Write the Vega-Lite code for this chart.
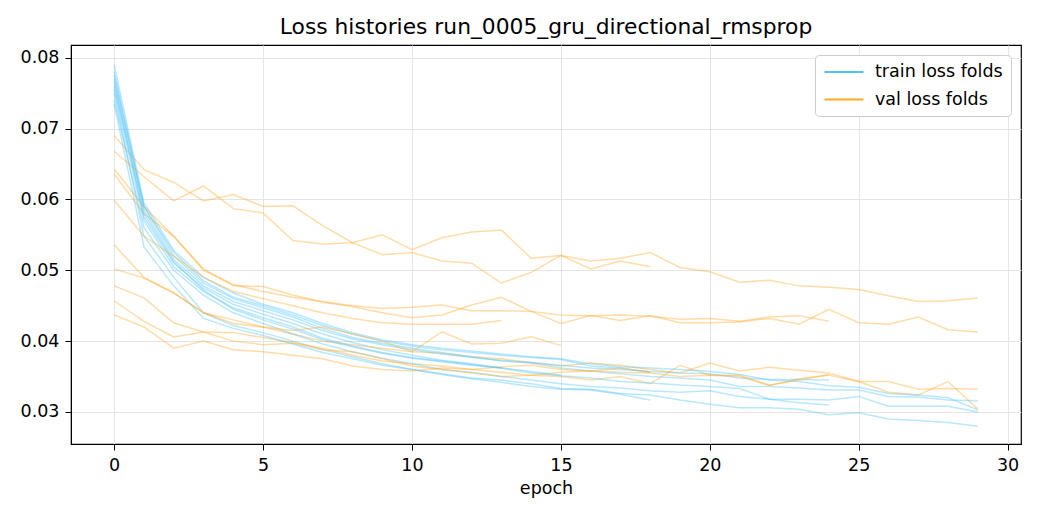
{
  "$schema": "https://vega.github.io/schema/vega-lite/v6.json",
  "autosize": {"type": "none"},
  "padding": {"left": 71, "top": 45, "right": 19, "bottom": 76},
  "width": 950,
  "height": 399,
  "title": {
    "text": "Loss histories run_0005_gru_directional_rmsprop",
    "font": "DejaVu Sans",
    "fontSize": 21.8,
    "fontWeight": "normal",
    "color": "black",
    "offset": 6
  },
  "config": {
    "font": "DejaVu Sans",
    "view": {"stroke": "black", "strokeWidth": 1.2},
    "axis": {
      "domainColor": "black",
      "tickColor": "black",
      "tickSize": 6,
      "labelColor": "black",
      "labelFontSize": 17.5,
      "labelPadding": 6,
      "titleFontSize": 17.5,
      "titleFontWeight": "normal",
      "titleColor": "black",
      "gridColor": "#e4e4e4",
      "gridWidth": 1
    }
  },
  "data": {
    "values": [
      {"fold":1,"kind":"train","epoch":0,"loss":0.0750},{"fold":1,"kind":"train","epoch":1,"loss":0.0548},{"fold":1,"kind":"train","epoch":2,"loss":0.0490},{"fold":1,"kind":"train","epoch":3,"loss":0.0440},{"fold":1,"kind":"train","epoch":4,"loss":0.0422},{"fold":1,"kind":"train","epoch":5,"loss":0.0412},{"fold":1,"kind":"train","epoch":6,"loss":0.0400},{"fold":1,"kind":"train","epoch":7,"loss":0.0388},{"fold":1,"kind":"train","epoch":8,"loss":0.0378},{"fold":1,"kind":"train","epoch":9,"loss":0.0368},{"fold":1,"kind":"train","epoch":10,"loss":0.0360},{"fold":1,"kind":"train","epoch":11,"loss":0.0354},{"fold":1,"kind":"train","epoch":12,"loss":0.0348},{"fold":1,"kind":"train","epoch":13,"loss":0.0345},{"fold":1,"kind":"train","epoch":14,"loss":0.0340},{"fold":1,"kind":"train","epoch":15,"loss":0.0333},{"fold":1,"kind":"train","epoch":16,"loss":0.0332},{"fold":1,"kind":"train","epoch":17,"loss":0.0326},{"fold":1,"kind":"train","epoch":18,"loss":0.0324},{"fold":1,"kind":"train","epoch":19,"loss":0.0317},{"fold":1,"kind":"train","epoch":20,"loss":0.0311},{"fold":1,"kind":"train","epoch":21,"loss":0.0306},{"fold":1,"kind":"train","epoch":22,"loss":0.0306},{"fold":1,"kind":"train","epoch":23,"loss":0.0304},{"fold":1,"kind":"train","epoch":24,"loss":0.0296},{"fold":1,"kind":"train","epoch":25,"loss":0.0299},{"fold":1,"kind":"train","epoch":26,"loss":0.0290},{"fold":1,"kind":"train","epoch":27,"loss":0.0288},{"fold":1,"kind":"train","epoch":28,"loss":0.0285},{"fold":1,"kind":"train","epoch":29,"loss":0.0280},
      {"fold":1,"kind":"val","epoch":0,"loss":0.0478},{"fold":1,"kind":"val","epoch":1,"loss":0.0461},{"fold":1,"kind":"val","epoch":2,"loss":0.0426},{"fold":1,"kind":"val","epoch":3,"loss":0.0413},{"fold":1,"kind":"val","epoch":4,"loss":0.0412},{"fold":1,"kind":"val","epoch":5,"loss":0.0405},{"fold":1,"kind":"val","epoch":6,"loss":0.0398},{"fold":1,"kind":"val","epoch":7,"loss":0.0390},{"fold":1,"kind":"val","epoch":8,"loss":0.0380},{"fold":1,"kind":"val","epoch":9,"loss":0.0372},{"fold":1,"kind":"val","epoch":10,"loss":0.0368},{"fold":1,"kind":"val","epoch":11,"loss":0.0365},{"fold":1,"kind":"val","epoch":12,"loss":0.0360},{"fold":1,"kind":"val","epoch":13,"loss":0.0356},{"fold":1,"kind":"val","epoch":14,"loss":0.0352},{"fold":1,"kind":"val","epoch":15,"loss":0.0350},{"fold":1,"kind":"val","epoch":16,"loss":0.0345},{"fold":1,"kind":"val","epoch":17,"loss":0.0350},{"fold":1,"kind":"val","epoch":18,"loss":0.0340},{"fold":1,"kind":"val","epoch":19,"loss":0.0366},{"fold":1,"kind":"val","epoch":20,"loss":0.0352},{"fold":1,"kind":"val","epoch":21,"loss":0.0352},{"fold":1,"kind":"val","epoch":22,"loss":0.0337},{"fold":1,"kind":"val","epoch":23,"loss":0.0347},{"fold":1,"kind":"val","epoch":24,"loss":0.0352},{"fold":1,"kind":"val","epoch":25,"loss":0.0343},{"fold":1,"kind":"val","epoch":26,"loss":0.0328},{"fold":1,"kind":"val","epoch":27,"loss":0.0324},{"fold":1,"kind":"val","epoch":28,"loss":0.0343},{"fold":1,"kind":"val","epoch":29,"loss":0.0304},
      {"fold":2,"kind":"train","epoch":0,"loss":0.0765},{"fold":2,"kind":"train","epoch":1,"loss":0.0575},{"fold":2,"kind":"train","epoch":2,"loss":0.0510},{"fold":2,"kind":"train","epoch":3,"loss":0.0475},{"fold":2,"kind":"train","epoch":4,"loss":0.0452},{"fold":2,"kind":"train","epoch":5,"loss":0.0438},{"fold":2,"kind":"train","epoch":6,"loss":0.0425},{"fold":2,"kind":"train","epoch":7,"loss":0.0410},{"fold":2,"kind":"train","epoch":8,"loss":0.0398},{"fold":2,"kind":"train","epoch":9,"loss":0.0388},{"fold":2,"kind":"train","epoch":10,"loss":0.0380},{"fold":2,"kind":"train","epoch":11,"loss":0.0373},{"fold":2,"kind":"train","epoch":12,"loss":0.0368},{"fold":2,"kind":"train","epoch":13,"loss":0.0362},{"fold":2,"kind":"train","epoch":14,"loss":0.0355},{"fold":2,"kind":"train","epoch":15,"loss":0.0351},{"fold":2,"kind":"train","epoch":16,"loss":0.0348},{"fold":2,"kind":"train","epoch":17,"loss":0.0343},{"fold":2,"kind":"train","epoch":18,"loss":0.0341},{"fold":2,"kind":"train","epoch":19,"loss":0.0338},{"fold":2,"kind":"train","epoch":20,"loss":0.0336},{"fold":2,"kind":"train","epoch":21,"loss":0.0333},{"fold":2,"kind":"train","epoch":22,"loss":0.0318},{"fold":2,"kind":"train","epoch":23,"loss":0.0318},{"fold":2,"kind":"train","epoch":24,"loss":0.0317},{"fold":2,"kind":"train","epoch":25,"loss":0.0322},{"fold":2,"kind":"train","epoch":26,"loss":0.0308},{"fold":2,"kind":"train","epoch":27,"loss":0.0308},{"fold":2,"kind":"train","epoch":28,"loss":0.0308},{"fold":2,"kind":"train","epoch":29,"loss":0.0300},
      {"fold":2,"kind":"val","epoch":0,"loss":0.0502},{"fold":2,"kind":"val","epoch":1,"loss":0.0489},{"fold":2,"kind":"val","epoch":2,"loss":0.0468},{"fold":2,"kind":"val","epoch":3,"loss":0.0440},{"fold":2,"kind":"val","epoch":4,"loss":0.0430},{"fold":2,"kind":"val","epoch":5,"loss":0.0420},{"fold":2,"kind":"val","epoch":6,"loss":0.0410},{"fold":2,"kind":"val","epoch":7,"loss":0.0400},{"fold":2,"kind":"val","epoch":8,"loss":0.0395},{"fold":2,"kind":"val","epoch":9,"loss":0.0390},{"fold":2,"kind":"val","epoch":10,"loss":0.0385},{"fold":2,"kind":"val","epoch":11,"loss":0.0383},{"fold":2,"kind":"val","epoch":12,"loss":0.0378},{"fold":2,"kind":"val","epoch":13,"loss":0.0375},{"fold":2,"kind":"val","epoch":14,"loss":0.0370},{"fold":2,"kind":"val","epoch":15,"loss":0.0365},{"fold":2,"kind":"val","epoch":16,"loss":0.0369},{"fold":2,"kind":"val","epoch":17,"loss":0.0366},{"fold":2,"kind":"val","epoch":18,"loss":0.0360},{"fold":2,"kind":"val","epoch":19,"loss":0.0355},{"fold":2,"kind":"val","epoch":20,"loss":0.0369},{"fold":2,"kind":"val","epoch":21,"loss":0.0358},{"fold":2,"kind":"val","epoch":22,"loss":0.0363},{"fold":2,"kind":"val","epoch":23,"loss":0.0359},{"fold":2,"kind":"val","epoch":24,"loss":0.0355},{"fold":2,"kind":"val","epoch":25,"loss":0.0343},{"fold":2,"kind":"val","epoch":26,"loss":0.0343},{"fold":2,"kind":"val","epoch":27,"loss":0.0332},{"fold":2,"kind":"val","epoch":28,"loss":0.0333},{"fold":2,"kind":"val","epoch":29,"loss":0.0332},
      {"fold":3,"kind":"train","epoch":0,"loss":0.0780},{"fold":3,"kind":"train","epoch":1,"loss":0.0590},{"fold":3,"kind":"train","epoch":2,"loss":0.0520},{"fold":3,"kind":"train","epoch":3,"loss":0.0482},{"fold":3,"kind":"train","epoch":4,"loss":0.0460},{"fold":3,"kind":"train","epoch":5,"loss":0.0447},{"fold":3,"kind":"train","epoch":6,"loss":0.0434},{"fold":3,"kind":"train","epoch":7,"loss":0.0418},{"fold":3,"kind":"train","epoch":8,"loss":0.0405},{"fold":3,"kind":"train","epoch":9,"loss":0.0397},{"fold":3,"kind":"train","epoch":10,"loss":0.0390},{"fold":3,"kind":"train","epoch":11,"loss":0.0384},{"fold":3,"kind":"train","epoch":12,"loss":0.0378},{"fold":3,"kind":"train","epoch":13,"loss":0.0372},{"fold":3,"kind":"train","epoch":14,"loss":0.0369},{"fold":3,"kind":"train","epoch":15,"loss":0.0362},{"fold":3,"kind":"train","epoch":16,"loss":0.0358},{"fold":3,"kind":"train","epoch":17,"loss":0.0354},{"fold":3,"kind":"train","epoch":18,"loss":0.0350},{"fold":3,"kind":"train","epoch":19,"loss":0.0348},{"fold":3,"kind":"train","epoch":20,"loss":0.0345},{"fold":3,"kind":"train","epoch":21,"loss":0.0336},{"fold":3,"kind":"train","epoch":22,"loss":0.0336},{"fold":3,"kind":"train","epoch":23,"loss":0.0334},{"fold":3,"kind":"train","epoch":24,"loss":0.0331},{"fold":3,"kind":"train","epoch":25,"loss":0.0331},{"fold":3,"kind":"train","epoch":26,"loss":0.0322},{"fold":3,"kind":"train","epoch":27,"loss":0.0321},{"fold":3,"kind":"train","epoch":28,"loss":0.0317},{"fold":3,"kind":"train","epoch":29,"loss":0.0316},
      {"fold":3,"kind":"val","epoch":0,"loss":0.0643},{"fold":3,"kind":"val","epoch":1,"loss":0.0590},{"fold":3,"kind":"val","epoch":2,"loss":0.0548},{"fold":3,"kind":"val","epoch":3,"loss":0.0502},{"fold":3,"kind":"val","epoch":4,"loss":0.0478},{"fold":3,"kind":"val","epoch":5,"loss":0.0477},{"fold":3,"kind":"val","epoch":6,"loss":0.0465},{"fold":3,"kind":"val","epoch":7,"loss":0.0455},{"fold":3,"kind":"val","epoch":8,"loss":0.0449},{"fold":3,"kind":"val","epoch":9,"loss":0.0440},{"fold":3,"kind":"val","epoch":10,"loss":0.0433},{"fold":3,"kind":"val","epoch":11,"loss":0.0437},{"fold":3,"kind":"val","epoch":12,"loss":0.0451},{"fold":3,"kind":"val","epoch":13,"loss":0.0462},{"fold":3,"kind":"val","epoch":14,"loss":0.0442},{"fold":3,"kind":"val","epoch":15,"loss":0.0425},{"fold":3,"kind":"val","epoch":16,"loss":0.0436},{"fold":3,"kind":"val","epoch":17,"loss":0.0429},{"fold":3,"kind":"val","epoch":18,"loss":0.0436},{"fold":3,"kind":"val","epoch":19,"loss":0.0426},{"fold":3,"kind":"val","epoch":20,"loss":0.0426},{"fold":3,"kind":"val","epoch":21,"loss":0.0427},{"fold":3,"kind":"val","epoch":22,"loss":0.0432},{"fold":3,"kind":"val","epoch":23,"loss":0.0424},{"fold":3,"kind":"val","epoch":24,"loss":0.0445},{"fold":3,"kind":"val","epoch":25,"loss":0.0426},{"fold":3,"kind":"val","epoch":26,"loss":0.0424},{"fold":3,"kind":"val","epoch":27,"loss":0.0434},{"fold":3,"kind":"val","epoch":28,"loss":0.0416},{"fold":3,"kind":"val","epoch":29,"loss":0.0413},
      {"fold":4,"kind":"train","epoch":0,"loss":0.0790},{"fold":4,"kind":"train","epoch":1,"loss":0.0595},{"fold":4,"kind":"train","epoch":2,"loss":0.0528},{"fold":4,"kind":"train","epoch":3,"loss":0.0490},{"fold":4,"kind":"train","epoch":4,"loss":0.0468},{"fold":4,"kind":"train","epoch":5,"loss":0.0452},{"fold":4,"kind":"train","epoch":6,"loss":0.0440},{"fold":4,"kind":"train","epoch":7,"loss":0.0425},{"fold":4,"kind":"train","epoch":8,"loss":0.0412},{"fold":4,"kind":"train","epoch":9,"loss":0.0402},{"fold":4,"kind":"train","epoch":10,"loss":0.0395},{"fold":4,"kind":"train","epoch":11,"loss":0.0390},{"fold":4,"kind":"train","epoch":12,"loss":0.0386},{"fold":4,"kind":"train","epoch":13,"loss":0.0382},{"fold":4,"kind":"train","epoch":14,"loss":0.0378},{"fold":4,"kind":"train","epoch":15,"loss":0.0375},{"fold":4,"kind":"train","epoch":16,"loss":0.0368},{"fold":4,"kind":"train","epoch":17,"loss":0.0364},{"fold":4,"kind":"train","epoch":18,"loss":0.0362},{"fold":4,"kind":"train","epoch":19,"loss":0.0360},{"fold":4,"kind":"train","epoch":20,"loss":0.0357},{"fold":4,"kind":"train","epoch":21,"loss":0.0353},{"fold":4,"kind":"train","epoch":22,"loss":0.0345},{"fold":4,"kind":"train","epoch":23,"loss":0.0343},{"fold":4,"kind":"train","epoch":24,"loss":0.0337},{"fold":4,"kind":"train","epoch":25,"loss":0.0335},{"fold":4,"kind":"train","epoch":26,"loss":0.0326},{"fold":4,"kind":"train","epoch":27,"loss":0.0324},{"fold":4,"kind":"train","epoch":28,"loss":0.0320},{"fold":4,"kind":"train","epoch":29,"loss":0.0303},
      {"fold":4,"kind":"val","epoch":0,"loss":0.0690},{"fold":4,"kind":"val","epoch":1,"loss":0.0642},{"fold":4,"kind":"val","epoch":2,"loss":0.0624},{"fold":4,"kind":"val","epoch":3,"loss":0.0598},{"fold":4,"kind":"val","epoch":4,"loss":0.0607},{"fold":4,"kind":"val","epoch":5,"loss":0.0590},{"fold":4,"kind":"val","epoch":6,"loss":0.0591},{"fold":4,"kind":"val","epoch":7,"loss":0.0563},{"fold":4,"kind":"val","epoch":8,"loss":0.0539},{"fold":4,"kind":"val","epoch":9,"loss":0.0550},{"fold":4,"kind":"val","epoch":10,"loss":0.0529},{"fold":4,"kind":"val","epoch":11,"loss":0.0546},{"fold":4,"kind":"val","epoch":12,"loss":0.0554},{"fold":4,"kind":"val","epoch":13,"loss":0.0557},{"fold":4,"kind":"val","epoch":14,"loss":0.0517},{"fold":4,"kind":"val","epoch":15,"loss":0.0521},{"fold":4,"kind":"val","epoch":16,"loss":0.0513},{"fold":4,"kind":"val","epoch":17,"loss":0.0517},{"fold":4,"kind":"val","epoch":18,"loss":0.0525},{"fold":4,"kind":"val","epoch":19,"loss":0.0504},{"fold":4,"kind":"val","epoch":20,"loss":0.0498},{"fold":4,"kind":"val","epoch":21,"loss":0.0483},{"fold":4,"kind":"val","epoch":22,"loss":0.0486},{"fold":4,"kind":"val","epoch":23,"loss":0.0478},{"fold":4,"kind":"val","epoch":24,"loss":0.0476},{"fold":4,"kind":"val","epoch":25,"loss":0.0473},{"fold":4,"kind":"val","epoch":26,"loss":0.0464},{"fold":4,"kind":"val","epoch":27,"loss":0.0456},{"fold":4,"kind":"val","epoch":28,"loss":0.0457},{"fold":4,"kind":"val","epoch":29,"loss":0.0461},
      {"fold":5,"kind":"train","epoch":0,"loss":0.0740},{"fold":5,"kind":"train","epoch":1,"loss":0.0560},{"fold":5,"kind":"train","epoch":2,"loss":0.0500},{"fold":5,"kind":"train","epoch":3,"loss":0.0465},{"fold":5,"kind":"train","epoch":4,"loss":0.0440},{"fold":5,"kind":"train","epoch":5,"loss":0.0425},{"fold":5,"kind":"train","epoch":6,"loss":0.0410},{"fold":5,"kind":"train","epoch":7,"loss":0.0396},{"fold":5,"kind":"train","epoch":8,"loss":0.0385},{"fold":5,"kind":"train","epoch":9,"loss":0.0376},{"fold":5,"kind":"train","epoch":10,"loss":0.0368},{"fold":5,"kind":"train","epoch":11,"loss":0.0360},{"fold":5,"kind":"train","epoch":12,"loss":0.0356},{"fold":5,"kind":"train","epoch":13,"loss":0.0350},{"fold":5,"kind":"train","epoch":14,"loss":0.0345},{"fold":5,"kind":"train","epoch":15,"loss":0.0340},{"fold":5,"kind":"train","epoch":16,"loss":0.0336},{"fold":5,"kind":"train","epoch":17,"loss":0.0334},{"fold":5,"kind":"train","epoch":18,"loss":0.0330},{"fold":5,"kind":"train","epoch":19,"loss":0.0328},{"fold":5,"kind":"train","epoch":20,"loss":0.0330},{"fold":5,"kind":"train","epoch":21,"loss":0.0322},{"fold":5,"kind":"train","epoch":22,"loss":0.0318},{"fold":5,"kind":"train","epoch":23,"loss":0.0313},{"fold":5,"kind":"train","epoch":24,"loss":0.0310},
      {"fold":5,"kind":"val","epoch":0,"loss":0.0636},{"fold":5,"kind":"val","epoch":1,"loss":0.0580},{"fold":5,"kind":"val","epoch":2,"loss":0.0548},{"fold":5,"kind":"val","epoch":3,"loss":0.0500},{"fold":5,"kind":"val","epoch":4,"loss":0.0480},{"fold":5,"kind":"val","epoch":5,"loss":0.0470},{"fold":5,"kind":"val","epoch":6,"loss":0.0462},{"fold":5,"kind":"val","epoch":7,"loss":0.0456},{"fold":5,"kind":"val","epoch":8,"loss":0.0450},{"fold":5,"kind":"val","epoch":9,"loss":0.0446},{"fold":5,"kind":"val","epoch":10,"loss":0.0448},{"fold":5,"kind":"val","epoch":11,"loss":0.0451},{"fold":5,"kind":"val","epoch":12,"loss":0.0443},{"fold":5,"kind":"val","epoch":13,"loss":0.0443},{"fold":5,"kind":"val","epoch":14,"loss":0.0442},{"fold":5,"kind":"val","epoch":15,"loss":0.0437},{"fold":5,"kind":"val","epoch":16,"loss":0.0436},{"fold":5,"kind":"val","epoch":17,"loss":0.0437},{"fold":5,"kind":"val","epoch":18,"loss":0.0435},{"fold":5,"kind":"val","epoch":19,"loss":0.0431},{"fold":5,"kind":"val","epoch":20,"loss":0.0432},{"fold":5,"kind":"val","epoch":21,"loss":0.0428},{"fold":5,"kind":"val","epoch":22,"loss":0.0434},{"fold":5,"kind":"val","epoch":23,"loss":0.0436},{"fold":5,"kind":"val","epoch":24,"loss":0.0428},
      {"fold":6,"kind":"train","epoch":0,"loss":0.0770},{"fold":6,"kind":"train","epoch":1,"loss":0.0585},{"fold":6,"kind":"train","epoch":2,"loss":0.0515},{"fold":6,"kind":"train","epoch":3,"loss":0.0478},{"fold":6,"kind":"train","epoch":4,"loss":0.0456},{"fold":6,"kind":"train","epoch":5,"loss":0.0443},{"fold":6,"kind":"train","epoch":6,"loss":0.0430},{"fold":6,"kind":"train","epoch":7,"loss":0.0415},{"fold":6,"kind":"train","epoch":8,"loss":0.0403},{"fold":6,"kind":"train","epoch":9,"loss":0.0395},{"fold":6,"kind":"train","epoch":10,"loss":0.0388},{"fold":6,"kind":"train","epoch":11,"loss":0.0382},{"fold":6,"kind":"train","epoch":12,"loss":0.0377},{"fold":6,"kind":"train","epoch":13,"loss":0.0373},{"fold":6,"kind":"train","epoch":14,"loss":0.0370},{"fold":6,"kind":"train","epoch":15,"loss":0.0366},{"fold":6,"kind":"train","epoch":16,"loss":0.0362},{"fold":6,"kind":"train","epoch":17,"loss":0.0360},{"fold":6,"kind":"train","epoch":18,"loss":0.0357},{"fold":6,"kind":"train","epoch":19,"loss":0.0355},{"fold":6,"kind":"train","epoch":20,"loss":0.0354},{"fold":6,"kind":"train","epoch":21,"loss":0.0348},{"fold":6,"kind":"train","epoch":22,"loss":0.0346},{"fold":6,"kind":"train","epoch":23,"loss":0.0346},{"fold":6,"kind":"train","epoch":24,"loss":0.0345},
      {"fold":6,"kind":"val","epoch":0,"loss":0.0457},{"fold":6,"kind":"val","epoch":1,"loss":0.0428},{"fold":6,"kind":"val","epoch":2,"loss":0.0406},{"fold":6,"kind":"val","epoch":3,"loss":0.0413},{"fold":6,"kind":"val","epoch":4,"loss":0.0400},{"fold":6,"kind":"val","epoch":5,"loss":0.0395},{"fold":6,"kind":"val","epoch":6,"loss":0.0397},{"fold":6,"kind":"val","epoch":7,"loss":0.0388},{"fold":6,"kind":"val","epoch":8,"loss":0.0385},{"fold":6,"kind":"val","epoch":9,"loss":0.0375},{"fold":6,"kind":"val","epoch":10,"loss":0.0365},{"fold":6,"kind":"val","epoch":11,"loss":0.0360},{"fold":6,"kind":"val","epoch":12,"loss":0.0355},{"fold":6,"kind":"val","epoch":13,"loss":0.0350},{"fold":6,"kind":"val","epoch":14,"loss":0.0352},{"fold":6,"kind":"val","epoch":15,"loss":0.0356},{"fold":6,"kind":"val","epoch":16,"loss":0.0358},{"fold":6,"kind":"val","epoch":17,"loss":0.0356},{"fold":6,"kind":"val","epoch":18,"loss":0.0355},{"fold":6,"kind":"val","epoch":19,"loss":0.0350},{"fold":6,"kind":"val","epoch":20,"loss":0.0352},{"fold":6,"kind":"val","epoch":21,"loss":0.0350},{"fold":6,"kind":"val","epoch":22,"loss":0.0338},{"fold":6,"kind":"val","epoch":23,"loss":0.0345},{"fold":6,"kind":"val","epoch":24,"loss":0.0353},
      {"fold":7,"kind":"train","epoch":0,"loss":0.0735},{"fold":7,"kind":"train","epoch":1,"loss":0.0533},{"fold":7,"kind":"train","epoch":2,"loss":0.0478},{"fold":7,"kind":"train","epoch":3,"loss":0.0432},{"fold":7,"kind":"train","epoch":4,"loss":0.0418},{"fold":7,"kind":"train","epoch":5,"loss":0.0408},{"fold":7,"kind":"train","epoch":6,"loss":0.0396},{"fold":7,"kind":"train","epoch":7,"loss":0.0384},{"fold":7,"kind":"train","epoch":8,"loss":0.0375},{"fold":7,"kind":"train","epoch":9,"loss":0.0366},{"fold":7,"kind":"train","epoch":10,"loss":0.0360},{"fold":7,"kind":"train","epoch":11,"loss":0.0353},{"fold":7,"kind":"train","epoch":12,"loss":0.0347},{"fold":7,"kind":"train","epoch":13,"loss":0.0342},{"fold":7,"kind":"train","epoch":14,"loss":0.0336},{"fold":7,"kind":"train","epoch":15,"loss":0.0332},{"fold":7,"kind":"train","epoch":16,"loss":0.0331},{"fold":7,"kind":"train","epoch":17,"loss":0.0325},{"fold":7,"kind":"train","epoch":18,"loss":0.0317},
      {"fold":7,"kind":"val","epoch":0,"loss":0.0668},{"fold":7,"kind":"val","epoch":1,"loss":0.0632},{"fold":7,"kind":"val","epoch":2,"loss":0.0598},{"fold":7,"kind":"val","epoch":3,"loss":0.0619},{"fold":7,"kind":"val","epoch":4,"loss":0.0587},{"fold":7,"kind":"val","epoch":5,"loss":0.0581},{"fold":7,"kind":"val","epoch":6,"loss":0.0542},{"fold":7,"kind":"val","epoch":7,"loss":0.0537},{"fold":7,"kind":"val","epoch":8,"loss":0.0539},{"fold":7,"kind":"val","epoch":9,"loss":0.0522},{"fold":7,"kind":"val","epoch":10,"loss":0.0525},{"fold":7,"kind":"val","epoch":11,"loss":0.0513},{"fold":7,"kind":"val","epoch":12,"loss":0.0510},{"fold":7,"kind":"val","epoch":13,"loss":0.0482},{"fold":7,"kind":"val","epoch":14,"loss":0.0497},{"fold":7,"kind":"val","epoch":15,"loss":0.0521},{"fold":7,"kind":"val","epoch":16,"loss":0.0502},{"fold":7,"kind":"val","epoch":17,"loss":0.0513},{"fold":7,"kind":"val","epoch":18,"loss":0.0505},
      {"fold":8,"kind":"train","epoch":0,"loss":0.0775},{"fold":8,"kind":"train","epoch":1,"loss":0.0590},{"fold":8,"kind":"train","epoch":2,"loss":0.0525},{"fold":8,"kind":"train","epoch":3,"loss":0.0485},{"fold":8,"kind":"train","epoch":4,"loss":0.0462},{"fold":8,"kind":"train","epoch":5,"loss":0.0450},{"fold":8,"kind":"train","epoch":6,"loss":0.0437},{"fold":8,"kind":"train","epoch":7,"loss":0.0422},{"fold":8,"kind":"train","epoch":8,"loss":0.0410},{"fold":8,"kind":"train","epoch":9,"loss":0.0400},{"fold":8,"kind":"train","epoch":10,"loss":0.0393},{"fold":8,"kind":"train","epoch":11,"loss":0.0388},{"fold":8,"kind":"train","epoch":12,"loss":0.0384},{"fold":8,"kind":"train","epoch":13,"loss":0.0380},{"fold":8,"kind":"train","epoch":14,"loss":0.0377},{"fold":8,"kind":"train","epoch":15,"loss":0.0374},{"fold":8,"kind":"train","epoch":16,"loss":0.0365},{"fold":8,"kind":"train","epoch":17,"loss":0.0362},{"fold":8,"kind":"train","epoch":18,"loss":0.0356},
      {"fold":8,"kind":"val","epoch":0,"loss":0.0437},{"fold":8,"kind":"val","epoch":1,"loss":0.0420},{"fold":8,"kind":"val","epoch":2,"loss":0.0390},{"fold":8,"kind":"val","epoch":3,"loss":0.0400},{"fold":8,"kind":"val","epoch":4,"loss":0.0388},{"fold":8,"kind":"val","epoch":5,"loss":0.0385},{"fold":8,"kind":"val","epoch":6,"loss":0.0380},{"fold":8,"kind":"val","epoch":7,"loss":0.0375},{"fold":8,"kind":"val","epoch":8,"loss":0.0365},{"fold":8,"kind":"val","epoch":9,"loss":0.0360},{"fold":8,"kind":"val","epoch":10,"loss":0.0358},{"fold":8,"kind":"val","epoch":11,"loss":0.0362},{"fold":8,"kind":"val","epoch":12,"loss":0.0360},{"fold":8,"kind":"val","epoch":13,"loss":0.0364},{"fold":8,"kind":"val","epoch":14,"loss":0.0366},{"fold":8,"kind":"val","epoch":15,"loss":0.0360},{"fold":8,"kind":"val","epoch":16,"loss":0.0358},{"fold":8,"kind":"val","epoch":17,"loss":0.0362},{"fold":8,"kind":"val","epoch":18,"loss":0.0356},
      {"fold":9,"kind":"train","epoch":0,"loss":0.0755},{"fold":9,"kind":"train","epoch":1,"loss":0.0570},{"fold":9,"kind":"train","epoch":2,"loss":0.0505},{"fold":9,"kind":"train","epoch":3,"loss":0.0470},{"fold":9,"kind":"train","epoch":4,"loss":0.0447},{"fold":9,"kind":"train","epoch":5,"loss":0.0433},{"fold":9,"kind":"train","epoch":6,"loss":0.0420},{"fold":9,"kind":"train","epoch":7,"loss":0.0404},{"fold":9,"kind":"train","epoch":8,"loss":0.0393},{"fold":9,"kind":"train","epoch":9,"loss":0.0384},{"fold":9,"kind":"train","epoch":10,"loss":0.0377},{"fold":9,"kind":"train","epoch":11,"loss":0.0372},{"fold":9,"kind":"train","epoch":12,"loss":0.0367},{"fold":9,"kind":"train","epoch":13,"loss":0.0362},{"fold":9,"kind":"train","epoch":14,"loss":0.0357},{"fold":9,"kind":"train","epoch":15,"loss":0.0352},
      {"fold":9,"kind":"val","epoch":0,"loss":0.0536},{"fold":9,"kind":"val","epoch":1,"loss":0.0490},{"fold":9,"kind":"val","epoch":2,"loss":0.0468},{"fold":9,"kind":"val","epoch":3,"loss":0.0440},{"fold":9,"kind":"val","epoch":4,"loss":0.0425},{"fold":9,"kind":"val","epoch":5,"loss":0.0420},{"fold":9,"kind":"val","epoch":6,"loss":0.0415},{"fold":9,"kind":"val","epoch":7,"loss":0.0420},{"fold":9,"kind":"val","epoch":8,"loss":0.0410},{"fold":9,"kind":"val","epoch":9,"loss":0.0400},{"fold":9,"kind":"val","epoch":10,"loss":0.0385},{"fold":9,"kind":"val","epoch":11,"loss":0.0413},{"fold":9,"kind":"val","epoch":12,"loss":0.0396},{"fold":9,"kind":"val","epoch":13,"loss":0.0397},{"fold":9,"kind":"val","epoch":14,"loss":0.0406},{"fold":9,"kind":"val","epoch":15,"loss":0.0394},
      {"fold":10,"kind":"train","epoch":0,"loss":0.0760},{"fold":10,"kind":"train","epoch":1,"loss":0.0580},{"fold":10,"kind":"train","epoch":2,"loss":0.0512},{"fold":10,"kind":"train","epoch":3,"loss":0.0472},{"fold":10,"kind":"train","epoch":4,"loss":0.0445},{"fold":10,"kind":"train","epoch":5,"loss":0.0430},{"fold":10,"kind":"train","epoch":6,"loss":0.0417},{"fold":10,"kind":"train","epoch":7,"loss":0.0402},{"fold":10,"kind":"train","epoch":8,"loss":0.0392},{"fold":10,"kind":"train","epoch":9,"loss":0.0383},{"fold":10,"kind":"train","epoch":10,"loss":0.0376},{"fold":10,"kind":"train","epoch":11,"loss":0.0371},{"fold":10,"kind":"train","epoch":12,"loss":0.0366},{"fold":10,"kind":"train","epoch":13,"loss":0.0362},
      {"fold":10,"kind":"val","epoch":0,"loss":0.0599},{"fold":10,"kind":"val","epoch":1,"loss":0.0548},{"fold":10,"kind":"val","epoch":2,"loss":0.0520},{"fold":10,"kind":"val","epoch":3,"loss":0.0490},{"fold":10,"kind":"val","epoch":4,"loss":0.0470},{"fold":10,"kind":"val","epoch":5,"loss":0.0460},{"fold":10,"kind":"val","epoch":6,"loss":0.0450},{"fold":10,"kind":"val","epoch":7,"loss":0.0440},{"fold":10,"kind":"val","epoch":8,"loss":0.0432},{"fold":10,"kind":"val","epoch":9,"loss":0.0426},{"fold":10,"kind":"val","epoch":10,"loss":0.0424},{"fold":10,"kind":"val","epoch":11,"loss":0.0424},{"fold":10,"kind":"val","epoch":12,"loss":0.0424},{"fold":10,"kind":"val","epoch":13,"loss":0.0429}
    ]
  },
  "mark": {"type": "line", "strokeWidth": 1.5, "opacity": 0.4},
  "encoding": {
    "x": {
      "field": "epoch",
      "type": "quantitative",
      "scale": {"domain": [-1.45, 30.45], "nice": false, "zero": false},
      "axis": {"values": [0, 5, 10, 15, 20, 25, 30], "format": "d", "title": "epoch", "titlePadding": 6}
    },
    "y": {
      "field": "loss",
      "type": "quantitative",
      "scale": {"domain": [0.02548, 0.0818], "nice": false, "zero": false},
      "axis": {"values": [0.03, 0.04, 0.05, 0.06, 0.07, 0.08], "format": ".2f", "title": null}
    },
    "color": {
      "field": "kind",
      "type": "nominal",
      "scale": {"domain": ["train", "val"], "range": ["#4fc3f7", "#ffa726"]},
      "legend": {
        "title": null,
        "orient": "top-right",
        "offset": 10,
        "labelExpr": "datum.label + ' loss folds'",
        "labelFontSize": 17.5,
        "labelColor": "black",
        "symbolType": "M-2.6,0H2.6",
        "symbolSize": 225,
        "symbolStrokeWidth": 2.2,
        "symbolOpacity": 1,
        "symbolOffset": 12,
        "labelOffset": 22,
        "rowPadding": 9.5,
        "padding": 8,
        "strokeColor": "#cccccc",
        "fillColor": "white",
        "cornerRadius": 4
      }
    },
    "detail": {"field": "fold", "type": "nominal"}
  }
}
